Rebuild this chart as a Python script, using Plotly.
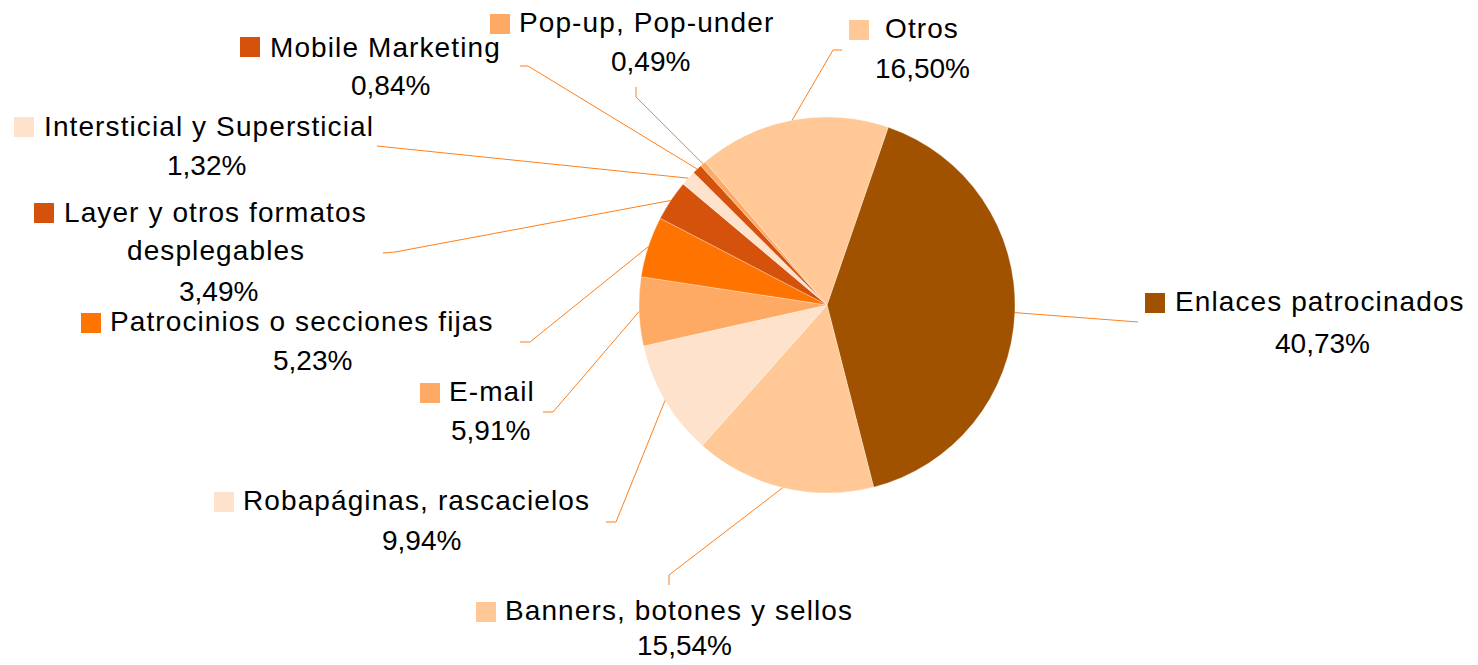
import math
import plotly.graph_objects as go

# ---------------- data ----------------
categories = [
    "Enlaces patrocinados",
    "Banners, botones y sellos",
    "Robapáginas, rascacielos",
    "E-mail",
    "Patrocinios o secciones fijas",
    "Layer y otros formatos desplegables",
    "Intersticial y Supersticial",
    "Mobile Marketing",
    "Pop-up, Pop-under",
    "Otros",
]
values = [40.73, 15.54, 9.94, 5.91, 5.23, 3.49, 1.32, 0.84, 0.49, 16.50]

# ---------------- style / layout ----------------
W, H = 1478, 665
colors = ["#A05200", "#FFC896", "#FFE2CC", "#FFAA64", "#FF7300",
          "#D5520C", "#FFE2CC", "#D5520C", "#FFAA64", "#FFC896"]
ROTATION = 19
CX, CY, R = 827, 305, 188
FONT = "Liberation Sans, Arial, sans-serif"
FS = 28
LINE_COLOR = "#FF7F1A"

# label layout in pixels: name lines (x, y-center, anchor), pct center, square top-left, leader path points
label_layout = [
    dict(name=[("Enlaces patrocinados", 1173, 302, "left")], pct=(1322, 343), sq=(1145, 293), path=[(1138, 322)]),
    dict(name=[("Banners, botones y sellos", 503, 610, "left")], pct=(684, 645), sq=(476, 602), path=[(669, 575), (669, 585)]),
    dict(name=[("Robapáginas, rascacielos", 241, 501, "left")], pct=(421, 540), sq=(214, 492), path=[(616, 522), (606, 522)]),
    dict(name=[("E-mail", 447, 392, "left")], pct=(490, 430), sq=(420, 383), path=[(553, 412), (543, 412)]),
    dict(name=[("Patrocinios o secciones fijas", 108, 321, "left")], pct=(312, 360), sq=(81, 313), path=[(530, 342), (520, 342)]),
    dict(name=[("Layer y otros formatos", 62, 213, "left"), ("desplegables", 216, 250, "center")], pct=(218, 291), sq=(34, 203), path=[(395, 252), (383, 253)]),
    dict(name=[("Intersticial y Supersticial", 42, 126, "left")], pct=(206, 165), sq=(14, 117), path=[(377, 146)]),
    dict(name=[("Mobile Marketing", 268, 47, "left")], pct=(391, 85), sq=(240, 37), path=[(528, 66), (520, 66)]),
    dict(name=[("Pop-up, Pop-under", 517, 23, "left")], pct=(650, 62), sq=(490, 14), path=[(636, 97), (636, 87)]),
    dict(name=[("Otros", 883, 28, "left")], pct=(922, 68), sq=(849, 20), path=[(833, 50), (842, 50)]),
]
SQ = 20


def px(x):
    return x / W


def py(y):
    return 1 - y / H


fig = go.Figure()
fig.add_trace(go.Pie(
    labels=categories,
    values=values,
    sort=False,
    direction="clockwise",
    rotation=ROTATION,
    marker=dict(colors=colors, line=dict(color="rgba(255,255,255,0.6)", width=0.5)),
    textinfo="none",
    hoverinfo="label+percent",
    showlegend=False,
    domain=dict(x=[px(CX - R), px(CX + R)], y=[py(CY + R), py(CY - R)]),
))

annotations = []
shapes = []
total = sum(values)
cum = 0.0
for i, (v, lay) in enumerate(zip(values, label_layout)):
    mid = math.radians(ROTATION + 360 * (cum + v / 2) / total)
    cum += v
    sx = CX + R * math.sin(mid)
    sy = CY - R * math.cos(mid)
    pts = [(sx, sy)] + lay["path"]
    path = "M " + " L ".join(f"{px(x):.5f},{py(y):.5f}" for x, y in pts)
    shapes.append(dict(type="path", xref="paper", yref="paper", path=path,
                       line=dict(color=LINE_COLOR, width=1)))
    x0, y0 = lay["sq"]
    shapes.append(dict(type="rect", xref="paper", yref="paper",
                       x0=px(x0), x1=px(x0 + SQ), y0=py(y0 + SQ), y1=py(y0),
                       fillcolor=colors[i], line=dict(width=0)))
    for text, tx, ty, anchor in lay["name"]:
        annotations.append(dict(
            x=px(tx), y=py(ty), xref="paper", yref="paper",
            text=f'<span style="letter-spacing:1.1px">{text}</span>',
            showarrow=False, xanchor=anchor, yanchor="middle",
            font=dict(family=FONT, size=FS, color="#000000")))
    pct_text = f"{v:.2f}".replace(".", ",") + "%"
    annotations.append(dict(
        x=px(lay["pct"][0]), y=py(lay["pct"][1]), xref="paper", yref="paper",
        text=pct_text, showarrow=False, xanchor="center", yanchor="middle",
        font=dict(family=FONT, size=FS, color="#000000")))

fig.update_layout(
    width=W, height=H,
    margin=dict(l=0, r=0, t=0, b=0),
    paper_bgcolor="#FFFFFF",
    plot_bgcolor="#FFFFFF",
    shapes=shapes,
    annotations=annotations,
    showlegend=False,
)

fig.write_html(
    "out.html",
    include_plotlyjs=True,
    config={"displayModeBar": False},
    post_script="document.body.style.margin='0px';document.body.style.overflow='hidden';",
)
